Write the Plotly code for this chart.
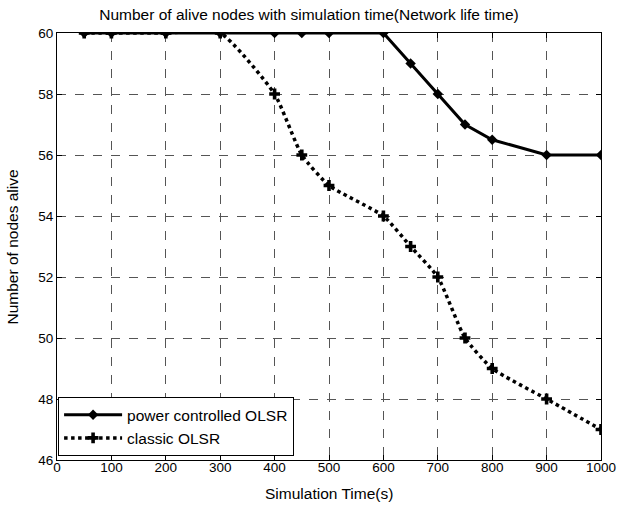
import plotly.graph_objects as go

time_s = [50, 100, 200, 300, 400, 450, 500, 600, 650, 700, 750, 800, 900, 1000]
power_controlled = [60, 60, 60, 60, 60, 60, 60, 60, 59, 58, 57, 56.5, 56, 56]
classic = [60, 60, 60, 60, 58, 56, 55, 54, 53, 52, 50, 49, 48, 47]
x_ticks = [0, 100, 200, 300, 400, 500, 600, 700, 800, 900, 1000]
y_ticks = [46, 48, 50, 52, 54, 56, 58, 60]

fig = go.Figure()
fig.add_trace(go.Scatter(
    x=time_s, y=classic, name="classic OLSR", mode="lines+markers",
    line=dict(color="black", width=3.5, dash="dot", shape="spline", smoothing=0.5),
    marker=dict(symbol="cross", size=9, color="black"),
))
fig.add_trace(go.Scatter(
    x=time_s, y=power_controlled, name="power controlled OLSR", mode="lines+markers",
    line=dict(color="black", width=3),
    marker=dict(symbol="diamond", size=8, color="black"),
))

axis_common = dict(
    showline=True, linecolor="black", linewidth=1, mirror="ticks",
    ticks="inside", ticklen=5, tickcolor="black", automargin=False,
    showgrid=True, gridcolor="#555555", griddash="dash", gridwidth=1,
    zeroline=False, tickfont=dict(size=13.5, color="black", family="Liberation Sans"),
)

fig.update_layout(
    width=618, height=506,
    margin=dict(l=57, r=17, t=33, b=46),
    paper_bgcolor="white", plot_bgcolor="white",
    font=dict(family="Liberation Sans", color="black", size=15.5),
    title=dict(text="Number of alive nodes with simulation time(Network life time)",
               x=0.5, xanchor="center", y=0.972, yanchor="middle",
               font=dict(size=15.5)),
    xaxis=dict(range=[0, 1000], tickvals=x_ticks, ticklabelstandoff=-5, **axis_common),
    yaxis=dict(range=[46, 60], tickvals=y_ticks, **axis_common),
    legend=dict(x=0.002, y=0.009, xanchor="left", yanchor="bottom",
                bgcolor="white", bordercolor="black", borderwidth=1,
                traceorder="reversed", font=dict(size=15.5), tracegroupgap=0,
                itemwidth=58),
    showlegend=True,
    annotations=[
        dict(text="Simulation Time(s)", xref="paper", yref="paper",
             x=0.5, y=-0.0773, xanchor="center", yanchor="middle",
             showarrow=False, font=dict(size=15.5)),
        dict(text="Number of nodes alive", xref="paper", yref="paper",
             x=-0.0809, y=0.5, xanchor="center", yanchor="middle", textangle=-90,
             showarrow=False, font=dict(size=15.5)),
    ],
)

fig.write_html("out.html", config={"displayModeBar": False},
               post_script="document.body.style.margin='0';")
